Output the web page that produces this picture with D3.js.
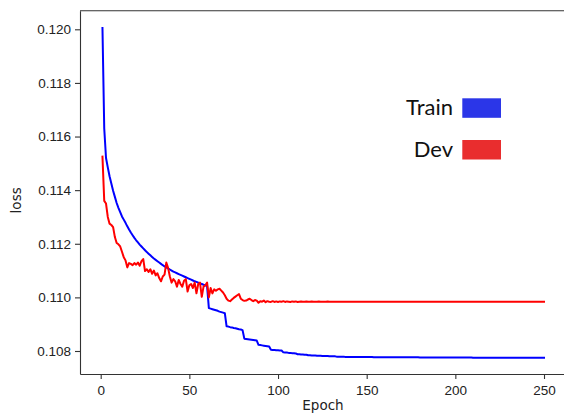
<!DOCTYPE html>
<html lang="en">

<head>
	<meta charset="utf-8">
	<title>Train / Dev loss</title>
	<style>
		body {
			margin: 0;
			background: #fff;
		}

		svg {
			display: block;
			font-family: "DejaVu Sans", sans-serif;
		}

		.axis path,
		.axis line {
			stroke: #333;
			stroke-width: 1.1px;
		}

		.axis text {
			fill: #222;
			font-size: 13.5px;
		}
	</style>
</head>

<body>
	<svg></svg>

	<script src="https://d3js.org/d3.v7.min.js"></script>
	<script>
		// loss per epoch
		var trainLoss = [
			0.12005, 0.11630, 0.11520, 0.11485, 0.11452, 0.11425, 0.11398, 0.11375, 0.11352, 0.11334,
			0.11318, 0.11302, 0.11290, 0.11278, 0.11265, 0.11253, 0.11242, 0.11232, 0.11222, 0.11213,
			0.11205, 0.11197, 0.11190, 0.11183, 0.11176, 0.11169, 0.11163, 0.11157, 0.11151, 0.11145,
			0.11140, 0.11135, 0.11130, 0.11125, 0.11120, 0.11116, 0.11112, 0.11108, 0.11104, 0.11100,
			0.11096, 0.11093, 0.11090, 0.11087, 0.11084, 0.11081, 0.11078, 0.11075, 0.11072, 0.11069,
			0.11066, 0.11063, 0.11060, 0.11058, 0.11055, 0.11052, 0.11050, 0.11047, 0.11045, 0.11042,
			0.10960, 0.10958, 0.10956, 0.10954, 0.10952, 0.10950, 0.10947, 0.10945, 0.10943, 0.10941,
			0.10892, 0.10891, 0.10889, 0.10888, 0.10886, 0.10885, 0.10883, 0.10881, 0.10880, 0.10878,
			0.10846, 0.10845, 0.10844, 0.10843, 0.10842, 0.10841, 0.10840, 0.10839, 0.10823, 0.10822,
			0.10821, 0.10820, 0.10819, 0.10818, 0.10817, 0.10805, 0.10804, 0.10804, 0.10803, 0.10803,
			0.10802, 0.10802, 0.10795, 0.10794, 0.10794, 0.10793, 0.10793, 0.10792, 0.10792, 0.10791,
			0.10788, 0.10788, 0.10787, 0.10787, 0.10786, 0.10786, 0.10784, 0.10784, 0.10783, 0.10783,
			0.10783, 0.10782, 0.10782, 0.10782, 0.10781, 0.10781, 0.10781, 0.10781, 0.10780, 0.10780,
			0.10780, 0.10780, 0.10779, 0.10779, 0.10779, 0.10779, 0.10779, 0.10778, 0.10778, 0.10778,
			0.10778, 0.10778, 0.10778, 0.10778, 0.10778, 0.10778, 0.10778, 0.10778, 0.10778, 0.10778,
			0.10778, 0.10778, 0.10778, 0.10777, 0.10777, 0.10777, 0.10777, 0.10777, 0.10777, 0.10777,
			0.10777, 0.10777, 0.10777, 0.10777, 0.10777, 0.10777, 0.10777, 0.10777, 0.10777, 0.10777,
			0.10777, 0.10777, 0.10777, 0.10777, 0.10777, 0.10777, 0.10777, 0.10777, 0.10777, 0.10776,
			0.10776, 0.10776, 0.10776, 0.10776, 0.10776, 0.10776, 0.10776, 0.10776, 0.10776, 0.10776,
			0.10776, 0.10776, 0.10776, 0.10776, 0.10776, 0.10776, 0.10776, 0.10776, 0.10776, 0.10776,
			0.10776, 0.10776, 0.10776, 0.10776, 0.10776, 0.10776, 0.10776, 0.10776, 0.10776, 0.10775,
			0.10775, 0.10775, 0.10775, 0.10775, 0.10775, 0.10775, 0.10775, 0.10775, 0.10775, 0.10775,
			0.10775, 0.10775, 0.10775, 0.10775, 0.10775, 0.10775, 0.10775, 0.10775, 0.10775, 0.10775,
			0.10775, 0.10775, 0.10775, 0.10775, 0.10775, 0.10775, 0.10775, 0.10775, 0.10775, 0.10775,
			0.10775, 0.10775, 0.10775, 0.10775, 0.10775, 0.10775, 0.10775, 0.10775, 0.10775, 0.10775
		];

		var devLoss = [
			0.11525, 0.11360, 0.11350, 0.11300, 0.11275, 0.11270, 0.11262, 0.11225, 0.11203, 0.11198,
			0.11190, 0.11170, 0.11150, 0.11138, 0.11112, 0.11128, 0.11125, 0.11120, 0.11128, 0.11122,
			0.11130, 0.11118, 0.11135, 0.11143, 0.11098, 0.11105, 0.11095, 0.11105, 0.11088, 0.11100,
			0.11082, 0.11090, 0.11072, 0.11060, 0.11078, 0.11085, 0.11130, 0.11110, 0.11078, 0.11055,
			0.11068, 0.11060, 0.11040, 0.11065, 0.11050, 0.11040, 0.11062, 0.11068, 0.11022, 0.11045,
			0.11050, 0.11035, 0.11055, 0.11015, 0.11050, 0.11055, 0.11002, 0.11040, 0.11045, 0.11055,
			0.11000, 0.11035, 0.11015, 0.11030, 0.11025, 0.11030, 0.11032, 0.11025, 0.11018, 0.11008,
			0.10995, 0.10988, 0.10986, 0.10992, 0.10998, 0.11003, 0.11008, 0.11012, 0.10995, 0.10990,
			0.10987, 0.10988, 0.10992, 0.10995, 0.10990, 0.10986, 0.10990, 0.10988, 0.10980, 0.10986,
			0.10984, 0.10988, 0.10982, 0.10986, 0.10984, 0.10983, 0.10986, 0.10983, 0.10985, 0.10983,
			0.10985, 0.10984, 0.10986, 0.10983, 0.10985, 0.10984, 0.10983, 0.10985, 0.10984, 0.10985,
			0.10983, 0.10984, 0.10985, 0.10984, 0.10984, 0.10985, 0.10984, 0.10984, 0.10985, 0.10984,
			0.10984, 0.10984, 0.10985, 0.10984, 0.10984, 0.10984, 0.10984, 0.10985, 0.10984, 0.10984,
			0.10984, 0.10984, 0.10984, 0.10984, 0.10984, 0.10984, 0.10984, 0.10984, 0.10984, 0.10984,
			0.10984, 0.10984, 0.10984, 0.10984, 0.10984, 0.10984, 0.10984, 0.10984, 0.10984, 0.10984,
			0.10984, 0.10984, 0.10984, 0.10984, 0.10984, 0.10984, 0.10984, 0.10984, 0.10984, 0.10984,
			0.10984, 0.10984, 0.10984, 0.10984, 0.10984, 0.10984, 0.10984, 0.10984, 0.10984, 0.10984,
			0.10984, 0.10984, 0.10984, 0.10984, 0.10984, 0.10984, 0.10984, 0.10984, 0.10984, 0.10984,
			0.10984, 0.10984, 0.10984, 0.10984, 0.10984, 0.10984, 0.10984, 0.10984, 0.10984, 0.10984,
			0.10984, 0.10984, 0.10984, 0.10984, 0.10984, 0.10984, 0.10984, 0.10984, 0.10984, 0.10984,
			0.10984, 0.10984, 0.10984, 0.10984, 0.10984, 0.10984, 0.10984, 0.10984, 0.10984, 0.10984,
			0.10984, 0.10984, 0.10984, 0.10984, 0.10984, 0.10984, 0.10984, 0.10984, 0.10984, 0.10984,
			0.10984, 0.10984, 0.10984, 0.10984, 0.10984, 0.10984, 0.10984, 0.10984, 0.10984, 0.10984,
			0.10984, 0.10984, 0.10984, 0.10984, 0.10984, 0.10984, 0.10984, 0.10984, 0.10984, 0.10984,
			0.10984, 0.10984, 0.10984, 0.10984, 0.10984, 0.10984, 0.10984, 0.10984, 0.10984, 0.10984
		];

		var xTicks = [0, 50, 100, 150, 200, 250];
		var yTicks = [0.108, 0.110, 0.112, 0.114, 0.116, 0.118, 0.120];
		var seriesNames = ["Train", "Dev"];
		var lineColors = ["#0000ff", "#ff0000"];
		var legendColors = ["#2b36e8", "#e92d2e"];

		(function() {

			var width = 564,
				height = 414;

			// plot frame (the right spine sits just outside the picture)
			var left = 80,
				right = 566,
				top = 10.7,
				bottom = 374;

			var svg = d3.select("svg")
				.attr("width", width)
				.attr("height", height);

			var x = d3.scaleLinear()
				.domain([-11.67, 262.4])
				.range([left, right]);

			var y = d3.scaleLinear()
				.domain([0.107142, 0.120694])
				.range([bottom, top]);

			// lines first so the spines draw over them
			var line = d3.line()
				.x(function(d, i) {
					return x(i + 1);
				})
				.y(function(d) {
					return y(d);
				});

			svg.append("g")
				.attr("class", "lines")
				.selectAll("path")
				.data([trainLoss, devLoss])
				.enter().append("path")
				.attr("d", line)
				.attr("fill", "none")
				.attr("stroke", function(d, i) {
					return lineColors[i];
				})
				.attr("stroke-width", 2)
				.attr("stroke-linejoin", "round")
				.attr("stroke-linecap", "square");

			var xAxis = svg.append("g")
				.attr("class", "axis")
				.attr("transform", "translate(0," + bottom + ")")
				.call(d3.axisBottom(x)
					.tickValues(xTicks)
					.tickSize(5)
					.tickPadding(6)
					.tickSizeOuter(0));

			var yAxis = svg.append("g")
				.attr("class", "axis")
				.attr("transform", "translate(" + left + ",0)")
				.call(d3.axisLeft(y)
					.tickValues(yTicks)
					.tickFormat(d3.format(".3f"))
					.tickSize(5)
					.tickPadding(4)
					.tickSizeOuter(0));

			// top spine
			svg.append("line")
				.attr("x1", left)
				.attr("x2", right)
				.attr("y1", top)
				.attr("y2", top)
				.attr("stroke", "#333")
				.attr("stroke-width", 1.1);

			// sits right at the bottom edge, as in the original
			svg.append("text")
				.attr("x", (left + right) / 2)
				.attr("y", 410)
				.attr("text-anchor", "middle")
				.attr("fill", "#222")
				.style("font-size", "13.5px")
				.text("Epoch");

			svg.append("text")
				.attr("transform", "translate(21," + ((top + bottom) / 2 + 8) + ") rotate(-90)")
				.attr("text-anchor", "middle")
				.attr("fill", "#222")
				.style("font-size", "13.5px")
				.text("loss");

			// legend on the right, labels then coloured boxes
			var legend = svg.append("g")
				.attr("class", "legend")
				.selectAll("g")
				.data(seriesNames)
				.enter().append("g")
				.attr("transform", function(d, i) {
					return "translate(0," + (98.3 + i * 41.7) + ")";
				});

			legend.append("text")
				.attr("x", 453)
				.attr("y", 17)
				.attr("text-anchor", "end")
				.attr("fill", "#111")
				.style("font-family", "Lato, 'Open Sans', sans-serif")
				.style("font-size", "22px")
				.text(function(d) {
					return d;
				});

			legend.append("rect")
				.attr("x", 462.3)
				.attr("y", 0)
				.attr("width", 38.7)
				.attr("height", 19.5)
				.attr("fill", function(d, i) {
					return legendColors[i];
				});

		})();
	</script>
</body>

</html>
